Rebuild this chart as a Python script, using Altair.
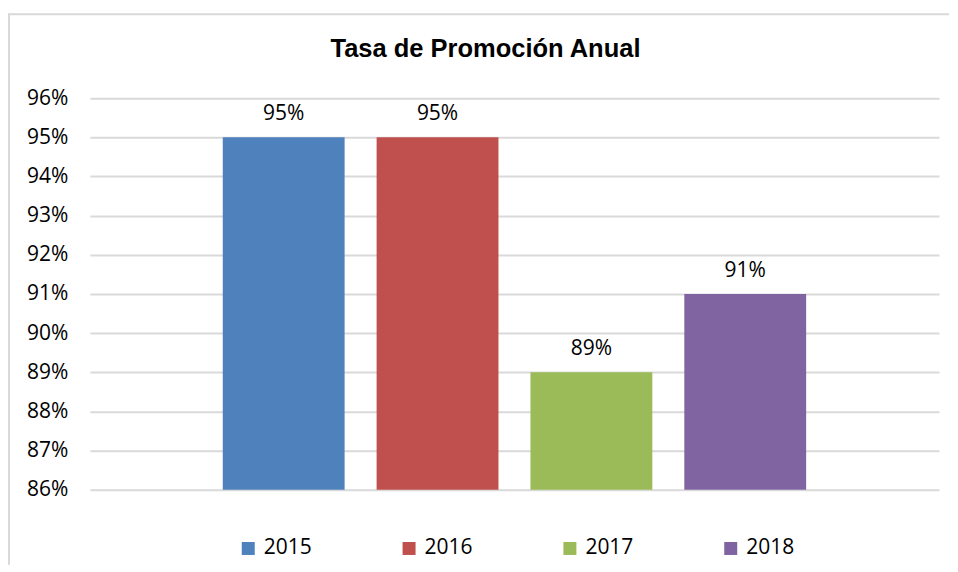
import altair as alt
import pandas as pd

years = ["2015", "2016", "2017", "2018"]
values = [0.95, 0.95, 0.89, 0.91]
colors = ["#4f81bd", "#c0504d", "#9bbb59", "#8064a2"]
y_ticks = [0.86, 0.87, 0.88, 0.89, 0.90, 0.91, 0.92, 0.93, 0.94, 0.95, 0.96]
title_text = "Tasa de Promoción Anual"

df = pd.DataFrame({"year": years, "value": values})

FONT = "Open Sans"

x_enc = alt.X("year:N", sort=years,
              scale=alt.Scale(paddingInner=0.208, paddingOuter=0.8635),
              axis=None)
y_axis = alt.Axis(values=y_ticks, format=".0%", title=None,
                  domain=False, ticks=False, labelPadding=22,
                  labelOverlap=False, tickCount=11,
                  labelFont=FONT, labelFontSize=21, labelColor="#000000",
                  gridColor="#d9d9d9", gridWidth=2)
y_enc = alt.Y("value:Q",
              scale=alt.Scale(domain=[0.86, 0.96], nice=False, zero=False),
              axis=y_axis)

bars = alt.Chart(df).mark_bar().encode(
    x=x_enc,
    y=y_enc,
    y2=alt.datum(0.86),
    color=alt.Color("year:N", sort=years,
                    scale=alt.Scale(domain=years, range=colors),
                    legend=alt.Legend(title=None, orient="none", direction="horizontal",
                                      columns=4, legendX=148, legendY=440,
                                      symbolType="square", symbolSize=169,
                                      symbolStrokeWidth=0, labelFont=FONT,
                                      labelFontSize=21, labelColor="#000000",
                                      labelOffset=5, columnPadding=86)),
)

labels = alt.Chart(df).mark_text(font=FONT, fontSize=21, color="#000000",
                                 baseline="alphabetic", dy=-17).encode(
    x=x_enc,
    y=y_enc,
    text=alt.Text("value:Q", format=".0%"),
)

frame_df = pd.DataFrame({"a": [0]})
frame_top = alt.Chart(frame_df).mark_rule(color="#d9d9d9", strokeWidth=2).encode(
    x=alt.value(-81), x2=alt.value(860), y=alt.value(-84))
frame_left = alt.Chart(frame_df).mark_rule(color="#d9d9d9", strokeWidth=2).encode(
    x=alt.value(-81), y=alt.value(-85), y2=alt.value(467))

chart = alt.layer(bars, labels, frame_top, frame_left).properties(
    width=850, height=392,
    padding={"left": 0, "top": 4, "right": 0, "bottom": 0},
    title=alt.TitleParams(title_text, font="Liberation Sans", fontSize=25.5,
                          fontWeight="bold", color="#000000", anchor="middle",
                          frame="group", offset=-50, dx=-29),
    background="#ffffff",
).configure_view(stroke=None)

chart.save("out.html", embed_options={"renderer": "svg", "actions": False})
